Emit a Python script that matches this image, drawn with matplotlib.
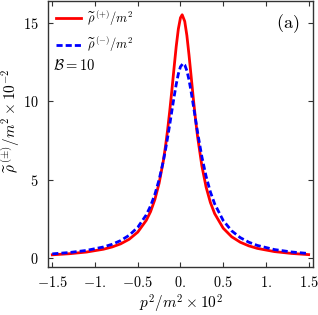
import numpy as np
import matplotlib
matplotlib.use("Agg")
import matplotlib.pyplot as plt

plt.rcParams['mathtext.fontset'] = 'cm'
plt.rcParams['font.family'] = 'DejaVu Serif'

## values
x_plus = [-1.5, -1.3, -1.1, -0.9, -0.8, -0.7, -0.6, -0.5, -0.4, -0.35, -0.3, -0.25,
          -0.2, -0.175, -0.15, -0.125, -0.1, -0.075, -0.05, -0.025, 0.0, 0.02, 0.05,
          0.075, 0.1, 0.125, 0.15, 0.175, 0.2, 0.25, 0.3,
          0.35, 0.4, 0.5, 0.6, 0.7, 0.8, 0.9, 1.1, 1.3, 1.5]
rho_plus = [0.214, 0.283, 0.390, 0.571, 0.713, 0.912, 1.205, 1.658, 2.41, 2.96, 3.73, 4.77,
            6.21, 7.13, 8.19, 9.40, 10.73, 12.12, 13.47, 14.59, 15.31, 15.5, 15.08,
            14.18, 12.94, 11.57, 10.19, 8.90, 7.75, 5.89, 4.53,
            3.55, 2.84, 1.91, 1.36, 1.015, 0.784, 0.622, 0.419, 0.301, 0.226]

x_minus = [-1.5, -1.3, -1.1, -0.9, -0.8, -0.7, -0.6, -0.5, -0.4, -0.35, -0.3, -0.25,
           -0.2, -0.175, -0.15, -0.125, -0.1, -0.075, -0.05, -0.025, 0.0, 0.03, 0.05,
           0.075, 0.1, 0.125, 0.15, 0.175, 0.2, 0.25, 0.3,
           0.35, 0.4, 0.5, 0.6, 0.7, 0.8, 0.9, 1.1, 1.3, 1.5]
rho_minus = [0.274, 0.360, 0.493, 0.715, 0.884, 1.120, 1.459, 1.965, 2.758, 3.325, 4.054, 4.996,
             6.20, 6.91, 7.69, 8.53, 9.40, 10.26, 11.06, 11.73, 12.19, 12.4, 12.31,
             11.94, 11.35, 10.59, 9.75, 8.88, 8.02, 6.47, 5.21,
             4.22, 3.46, 2.40, 1.737, 1.307, 1.016, 0.810, 0.548, 0.394, 0.296]

xticks = [-1.5, -1.0, -0.5, 0.0, 0.5, 1.0, 1.5]
xticklabels = [r'$-1.5$', r'$-1.$', r'$-0.5$', r'$0.$', r'$0.5$', r'$1.$', r'$1.5$']
yticks = [0, 5, 10, 15]
yticklabels = [r'$0$', r'$5$', r'$10$', r'$15$']

fig = plt.figure(figsize=(3.18, 3.15), dpi=100)
ax = fig.add_axes([0.151, 0.152, 0.833, 0.846])

ax.plot(x_plus, rho_plus, color='#ff0000', lw=2.0, label=r'$\widetilde{\rho}^{\,(+)}/m^2$')
ax.plot(x_minus, rho_minus, color='#0000ff', lw=2.0, ls=(0, (2.2, 1.1)),
        label=r'$\widetilde{\rho}^{\,(-)}/m^2$')

ax.set_xlim(-1.55, 1.55)
ax.set_ylim(-0.57, 16.4)
ax.set_xticks(xticks)
ax.set_xticklabels(xticklabels)
ax.set_yticks(yticks)
ax.set_yticklabels(yticklabels)
ax.tick_params(direction='in', top=True, right=True, length=3.5, width=0.8,
               labelsize=10.3, color='#333333')
ax.tick_params(axis='x', pad=6)
ax.tick_params(axis='y', pad=7)
for s in ax.spines.values():
    s.set_linewidth(1.0)
    s.set_color('#333333')

ax.set_xlabel(r'$p^2/m^2\times 10^2$', fontsize=11, labelpad=1.5)
ax.set_ylabel(r'$\widetilde{\rho}^{\,(\pm)}/m^2\times 10^{-2}$', fontsize=11)
ax.yaxis.set_label_coords(-0.098, 0.55)

ax.legend(loc='upper left', frameon=False, fontsize=9, handlelength=2.0,
          handletextpad=0.5, borderaxespad=0.2, labelspacing=0.55)
ax.text(0.02, 0.74, r'$\mathcal{B}=10$', transform=ax.transAxes, fontsize=10.5)
ax.text(0.95, 0.915, r'$\mathrm{(a)}$', transform=ax.transAxes, fontsize=13,
        ha='right', va='center')

fig.savefig('out.png', dpi=100)
